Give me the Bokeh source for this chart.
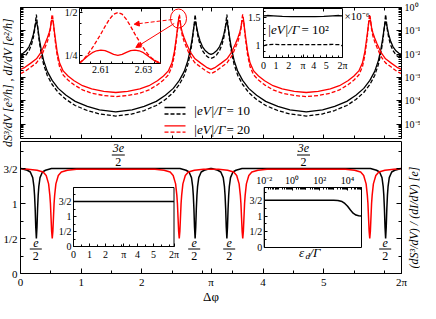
import math
from bokeh.plotting import figure
from bokeh.models import (Range1d, LinearScale, LogScale, LinearAxis, FixedTicker,
                          CustomJSTickFormatter, Label, Arrow, NormalHead)
from bokeh.embed import file_html
from bokeh.resources import INLINE

FONT = "Liberation Serif"
PI = 3.141592653589793
TWO_PI = 6.283185307179586

# ---------------- top panel: dS/dV (solid) and dI/dV (dashed), log scale ----------------
black_x = [0.0, 0.0418, 0.0918, 0.1418, 0.1818, 0.2118, 0.2318, 0.2418, 0.2518, 0.2618,
           0.2718, 0.2818, 0.2918, 0.3118, 0.3418, 0.3818, 0.4418, 0.5218, 0.6218, 0.7518, 0.9018, 1.1018, 1.3018,
           1.5708, 1.8398, 2.0398, 2.2398, 2.3898, 2.5198, 2.6198, 2.6998, 2.7598, 2.7998, 2.8298, 2.8498, 2.8598,
           2.8698, 2.8798,
           2.8898, 2.8998, 2.9098, 2.9298, 2.9598, 2.9998, 3.0498, 3.0998, 3.1416, 3.1834, 3.2334, 3.2834, 3.3234,
           3.3534, 3.3734, 3.3834, 3.3934, 3.4034,
           3.4134, 3.4234, 3.4334, 3.4534, 3.4834, 3.5234, 3.5834, 3.6634, 3.7634, 3.8934, 4.0434, 4.2434, 4.4434,
           4.7124, 4.9814, 5.1814, 5.3814, 5.5314, 5.6614, 5.7614, 5.8414, 5.9014, 5.9414, 5.9714, 5.9914, 6.0014,
           6.0114, 6.0214,
           6.0314, 6.0414, 6.0514, 6.0714, 6.1014, 6.1414, 6.1914, 6.2414, 6.2832]
black_dI = [0.0065, 0.0072, 0.0092, 0.0143, 0.0259, 0.0514, 0.103, 0.169, 0.305, 0.50,
            0.277, 0.153, 0.0845, 0.0315, 0.0106, 0.00358, 0.00121, 4.96e-4, 2.25e-4, 1.13e-4, 6.22e-5, 3.79e-5,
            2.69e-5, 2.20e-5, 2.69e-5, 3.79e-5, 6.22e-5, 1.13e-4, 2.25e-4, 4.96e-4, 0.00121, 0.00358, 0.0106,
            0.0315, 0.0845, 0.153, 0.277, 0.50,
            0.305, 0.169, 0.103, 0.0514, 0.0259, 0.0143, 0.0092, 0.0072, 0.0065, 0.0072, 0.0092, 0.0143, 0.0259,
            0.0514, 0.103, 0.169, 0.305, 0.50,
            0.277, 0.153, 0.0845, 0.0315, 0.0106, 0.00358, 0.00121, 4.96e-4, 2.25e-4, 1.13e-4, 6.22e-5, 3.79e-5,
            2.69e-5, 2.20e-5, 2.69e-5, 3.79e-5, 6.22e-5, 1.13e-4, 2.25e-4, 4.96e-4, 0.00121, 0.00358, 0.0106,
            0.0315, 0.0845, 0.153, 0.277, 0.50,
            0.305, 0.169, 0.103, 0.0514, 0.0259, 0.0143, 0.0092, 0.0072, 0.0065]
black_dS = [0.0098, 0.0108, 0.0138, 0.021, 0.0373, 0.070, 0.123, 0.169, 0.214, 0.25,
            0.194, 0.153, 0.1006, 0.0428, 0.0153, 0.00526, 0.00182, 7.44e-4, 3.38e-4, 1.70e-4, 9.33e-5, 5.69e-5,
            4.04e-5, 3.30e-5, 4.04e-5, 5.69e-5, 9.33e-5, 1.70e-4, 3.38e-4, 7.44e-4, 0.00182, 0.00526, 0.0153,
            0.0428, 0.1006, 0.153, 0.194, 0.25,
            0.214, 0.169, 0.123, 0.070, 0.0373, 0.021, 0.0138, 0.0108, 0.0098, 0.0108, 0.0138, 0.021, 0.0373,
            0.070, 0.123, 0.169, 0.214, 0.25,
            0.194, 0.153, 0.1006, 0.0428, 0.0153, 0.00526, 0.00182, 7.44e-4, 3.38e-4, 1.70e-4, 9.33e-5, 5.69e-5,
            4.04e-5, 3.30e-5, 4.04e-5, 5.69e-5, 9.33e-5, 1.70e-4, 3.38e-4, 7.44e-4, 0.00182, 0.00526, 0.0153,
            0.0428, 0.1006, 0.153, 0.194, 0.25,
            0.214, 0.169, 0.123, 0.070, 0.0373, 0.021, 0.0138, 0.0108, 0.0098]

red_x = [0.0, 0.0736, 0.1636, 0.2636, 0.3436, 0.4036, 0.4436, 0.4736, 0.4936, 0.5036, 0.5086, 0.5136, 0.5186, 0.5236,
         0.5286, 0.5336, 0.5386, 0.5436, 0.5536, 0.5736, 0.6036, 0.6436, 0.7036, 0.7836, 0.8836, 1.0236, 1.1736,
         1.3736, 1.5708, 1.7680, 1.9680, 2.1180, 2.2580, 2.3580, 2.4380, 2.4980, 2.5380, 2.5680, 2.5880, 2.5980,
         2.6030, 2.6080, 2.6130, 2.6180,
         2.6230, 2.6280, 2.6330, 2.6380, 2.6480, 2.6680, 2.6980, 2.7380, 2.7980, 2.8780, 2.9780, 3.0680, 3.1416,
         3.2152, 3.3052, 3.4052, 3.4852, 3.5452, 3.5852, 3.6152, 3.6352, 3.6452, 3.6502, 3.6552, 3.6602, 3.6652,
         3.6702, 3.6752, 3.6802, 3.6852, 3.6952, 3.7152, 3.7452, 3.7852, 3.8452, 3.9252, 4.0252, 4.1652, 4.3152,
         4.5152, 4.7124, 4.9096, 5.1096, 5.2596, 5.3996, 5.4996, 5.5796, 5.6396, 5.6796, 5.7096, 5.7296, 5.7396,
         5.7446, 5.7496, 5.7546, 5.7596,
         5.7646, 5.7696, 5.7746, 5.7796, 5.7896, 5.8096, 5.8396, 5.8796, 5.9396, 6.0196, 6.1196, 6.2096, 6.2832]
red_dI = [0.00145, 0.0018, 0.0027, 0.0042, 0.0083, 0.019, 0.0347, 0.0625, 0.118, 0.195, 0.26, 0.35, 0.45, 0.50,
          0.45, 0.34, 0.25, 0.19, 0.10, 0.035, 0.009, 0.0029, 0.00127, 7.7e-4, 4.8e-4, 2.9e-4, 2.1e-4, 1.67e-4,
          1.5e-4, 1.67e-4, 2.1e-4, 2.9e-4, 4.8e-4, 7.7e-4, 0.00127, 0.0029, 0.009, 0.035, 0.10, 0.19, 0.25, 0.34,
          0.45, 0.50,
          0.45, 0.35, 0.26, 0.195, 0.118, 0.0625, 0.0347, 0.019, 0.0083, 0.0042, 0.0027, 0.0018, 0.00145, 0.0018,
          0.0027, 0.0042, 0.0083, 0.019, 0.0347, 0.0625, 0.118, 0.195, 0.26, 0.35, 0.45, 0.50,
          0.45, 0.34, 0.25, 0.19, 0.10, 0.035, 0.009, 0.0029, 0.00127, 7.7e-4, 4.8e-4, 2.9e-4, 2.1e-4, 1.67e-4,
          1.5e-4, 1.67e-4, 2.1e-4, 2.9e-4, 4.8e-4, 7.7e-4, 0.00127, 0.0029, 0.009, 0.035, 0.10, 0.19, 0.25, 0.34,
          0.45, 0.50,
          0.45, 0.35, 0.26, 0.195, 0.118, 0.0625, 0.0347, 0.019, 0.0083, 0.0042, 0.0027, 0.0018, 0.00145]
red_dS = [0.0022, 0.0027, 0.0040, 0.0063, 0.0125, 0.028, 0.05, 0.085, 0.14, 0.21, 0.265, 0.283, 0.27, 0.253,
          0.27, 0.283, 0.265, 0.21, 0.12, 0.048, 0.013, 0.0042, 0.0019, 0.00115, 7.2e-4, 4.4e-4, 3.2e-4, 2.5e-4,
          2.25e-4, 2.5e-4, 3.2e-4, 4.4e-4, 7.2e-4, 0.00115, 0.0019, 0.0042, 0.013, 0.048, 0.12, 0.21, 0.265, 0.283,
          0.27, 0.253,
          0.27, 0.283, 0.265, 0.21, 0.14, 0.085, 0.05, 0.028, 0.0125, 0.0063, 0.0040, 0.0027, 0.0022, 0.0027,
          0.0040, 0.0063, 0.0125, 0.028, 0.05, 0.085, 0.14, 0.21, 0.265, 0.283, 0.27, 0.253,
          0.27, 0.283, 0.265, 0.21, 0.12, 0.048, 0.013, 0.0042, 0.0019, 0.00115, 7.2e-4, 4.4e-4, 3.2e-4, 2.5e-4,
          2.25e-4, 2.5e-4, 3.2e-4, 4.4e-4, 7.2e-4, 0.00115, 0.0019, 0.0042, 0.013, 0.048, 0.12, 0.21, 0.265, 0.283,
          0.27, 0.253,
          0.27, 0.283, 0.265, 0.21, 0.14, 0.085, 0.05, 0.028, 0.0125, 0.0063, 0.0040, 0.0027, 0.0022]

# ---------------- bottom panel: (dS/dV)/(dI/dV) ----------------
black_rx = [0.0, 0.1118, 0.1618, 0.2018, 0.2218, 0.2318, 0.2418, 0.2518, 0.2618, 0.2718, 0.2818, 0.2918, 0.3018,
            0.3218, 0.3618, 0.4118, 0.5118,
            2.6298, 2.7298, 2.7798, 2.8198, 2.8398, 2.8498, 2.8598, 2.8698, 2.8798, 2.8898, 2.8998, 2.9098, 2.9198,
            2.9398, 2.9798, 3.0298, 3.1298,
            3.1534, 3.2534, 3.3034, 3.3434, 3.3634, 3.3734, 3.3834, 3.3934, 3.4034, 3.4134, 3.4234, 3.4334, 3.4434,
            3.4634, 3.5034, 3.5534, 3.6534,
            5.7714, 5.8714, 5.9214, 5.9614, 5.9814, 5.9914, 6.0014, 6.0114, 6.0214, 6.0314, 6.0414, 6.0514, 6.0614,
            6.0814, 6.1214, 6.1714, 6.2832]
black_ratio = [1.5, 1.475, 1.45, 1.37, 1.24, 1.12, 0.93, 0.66, 0.5, 0.66, 0.93, 1.12, 1.24, 1.37, 1.45, 1.475, 1.5,
               1.5, 1.475, 1.45, 1.37, 1.24, 1.12, 0.93, 0.66, 0.5, 0.66, 0.93, 1.12, 1.24, 1.37, 1.45, 1.475, 1.5,
               1.5, 1.475, 1.45, 1.37, 1.24, 1.12, 0.93, 0.66, 0.5, 0.66, 0.93, 1.12, 1.24, 1.37, 1.45, 1.475, 1.5,
               1.5, 1.475, 1.45, 1.37, 1.24, 1.12, 0.93, 0.66, 0.5, 0.66, 0.93, 1.12, 1.24, 1.37, 1.45, 1.475, 1.5]
red_rx = [0.0, 0.1236, 0.2736, 0.3736, 0.4236, 0.4636, 0.4836, 0.4936, 0.5036, 0.5136, 0.5236, 0.5336, 0.5436,
          0.5536, 0.5636, 0.5836, 0.6236, 0.6736, 0.7736, 0.9236,
          2.2180, 2.3680, 2.4680, 2.5180, 2.5580, 2.5780, 2.5880, 2.5980, 2.6080, 2.6180, 2.6280, 2.6380, 2.6480,
          2.6580, 2.6780, 2.7180, 2.7680, 2.8680, 3.0180,
          3.2652, 3.4152, 3.5152, 3.5652, 3.6052, 3.6252, 3.6352, 3.6452, 3.6552, 3.6652, 3.6752, 3.6852, 3.6952,
          3.7052, 3.7252, 3.7652, 3.8152, 3.9152, 4.0652,
          5.3596, 5.5096, 5.6096, 5.6596, 5.6996, 5.7196, 5.7296, 5.7396, 5.7496, 5.7596, 5.7696, 5.7796, 5.7896,
          5.7996, 5.8196, 5.8596, 5.9096, 6.0096, 6.1596, 6.2832]
red_ratio = [1.5, 1.49, 1.475, 1.45, 1.40, 1.28, 1.12, 1.0, 0.8, 0.6, 0.5, 0.6, 0.8, 1.0, 1.12, 1.28, 1.40, 1.45,
             1.475, 1.49,
             1.49, 1.475, 1.45, 1.40, 1.28, 1.12, 1.0, 0.8, 0.6, 0.5, 0.6, 0.8, 1.0, 1.12, 1.28, 1.40, 1.45, 1.475,
             1.49,
             1.49, 1.475, 1.45, 1.40, 1.28, 1.12, 1.0, 0.8, 0.6, 0.5, 0.6, 0.8, 1.0, 1.12, 1.28, 1.40, 1.45, 1.475,
             1.49,
             1.49, 1.475, 1.45, 1.40, 1.28, 1.12, 1.0, 0.8, 0.6, 0.5, 0.6, 0.8, 1.0, 1.12, 1.28, 1.40, 1.45, 1.475,
             1.49, 1.5]

# ---------------- insets ----------------
insetA_x = [2.600, 2.602, 2.604, 2.606, 2.608, 2.610, 2.612, 2.614, 2.616, 2.618, 2.620, 2.622, 2.624, 2.626,
            2.628, 2.630, 2.632, 2.634, 2.636, 2.638]
insetA_dI = [0.21, 0.23, 0.26, 0.295, 0.335, 0.375, 0.42, 0.46, 0.49, 0.50, 0.49, 0.46, 0.42, 0.375, 0.335,
             0.295, 0.26, 0.235, 0.22, 0.21]
insetA_dS = [0.206, 0.228, 0.25, 0.268, 0.279, 0.283, 0.28, 0.27, 0.258, 0.253, 0.258, 0.27, 0.28, 0.283, 0.279,
             0.268, 0.25, 0.232, 0.215, 0.206]

insetB_x = [0.0, 0.3, 0.8, 1.5, 2.2, 2.8, 3.1416, 3.5, 4.1, 4.8, 5.5, 6.0, 6.2832]
insetB_dS = [1.53, 1.535, 1.53, 1.52, 1.515, 1.515, 1.515, 1.515, 1.515, 1.52, 1.53, 1.535, 1.53]
insetB_dI = [1.0, 1.02, 1.025, 1.02, 1.02, 1.02, 1.02, 1.02, 1.02, 1.02, 1.025, 1.02, 1.0]

insetC_x = [0.0, 1.5708, 3.1416, 4.7124, 6.2832]
insetC_ratio = [1.5, 1.5, 1.5, 1.5, 1.5]

insetD_x = [0.01, 0.1, 1, 10, 100, 1000, 2000, 4000, 6300, 10000, 16000, 25000, 40000, 63000, 100000]
insetD_ratio = [1.5, 1.5, 1.5, 1.5, 1.5, 1.497, 1.49, 1.46, 1.40, 1.31, 1.19, 1.09, 1.03, 1.01, 1.0]

# ---------------- ticks ----------------
x_ticks = [0, 1, 2, PI, 4, 5, TWO_PI]
x_tick_labels = ["0", "1", "2", "π", "4", "5", "2π"]
x_minor = [0.5, 1.5, 2.5, 3, 3.5, 4.5, 5.5, 6]
log_ticks = [1.0, 0.1, 0.01, 0.001, 0.0001, 0.00001]
log_tick_labels = ["10⁰", "10⁻¹", "10⁻²", "10⁻³", "10⁻⁴", "10⁻⁵"]
frac_ticks = [0, 0.5, 1, 1.5]
frac_labels = ["0", "1/2", "1", "3/2"]
frac_minor = [0.25, 0.75, 1.25, 1.75]
insetA_xticks = [2.61, 2.63]
insetA_xlabels = ["2.61", "2.63"]
insetA_xminor = [2.605, 2.615, 2.62, 2.625, 2.635]
insetA_yticks = [0.25, 0.5]
insetA_ylabels = ["1/4", "1/2"]
insetA_yminor = [0.3125, 0.375, 0.4375]
insetB_yticks = [1, 1.5]
insetB_ylabels = ["1", "1.5"]
insetB_yminor = [0.9, 1.1, 1.2, 1.3, 1.4, 1.6]
insetD_xticks = [0.01, 1, 100, 10000]
insetD_xlabels = ["10⁻²", "10⁰", "10²", "10⁴"]

assert len(black_x) == len(black_dI) == len(black_dS)
assert len(red_x) == len(red_dI) == len(red_dS)
assert len(black_rx) == len(black_ratio) and len(red_rx) == len(red_ratio)

# ---------------- layout geometry: the frame fills the whole canvas (page x 8..428, y 8..311) ----------------
CW, CH = 420.0, 303.0
TOP_LO = 10 ** (-131 / 23.3)      # lower limit of the log panel
BOT_HI = 1.886                    # upper limit of the ratio panel


def fx(page_x):
    return page_x - 8.0


def fy(page_y):
    return 311.0 - page_y


def span(d0, d1, p0, p1, F):
    k = (d1 - d0) / (p1 - p0)
    s = d0 - p0 * k
    return Range1d(s, s + F * k)


def span_log(d0, d1, p0, p1, F):
    l0, l1 = math.log10(d0), math.log10(d1)
    k = (l1 - l0) / (p1 - p0)
    s = l0 - p0 * k
    return Range1d(10 ** s, 10 ** (s + F * k))


p = figure(width=int(CW), height=int(CH),
           x_range=span(0, TWO_PI, fx(28), fx(409), CW),
           y_range=span(0, BOT_HI, fy(281), fy(149), CH),
           x_axis_location=None, y_axis_location=None, toolbar_location=None, output_backend="svg",
           min_border=0, min_border_left=0, min_border_right=0, min_border_top=0, min_border_bottom=0)
p.outline_line_color = None
p.background_fill_color = "white"
p.border_fill_color = "white"
p.grid.grid_line_color = None

p.extra_x_ranges = {
    "Ax": span(2.600, 2.638, fx(87), fx(168), CW),
    "Bx": span(0, TWO_PI, fx(271), fx(350), CW),
    "Cx": span(0, TWO_PI, fx(81), fx(181.5), CW),
    "Dx": span_log(1e-2, 1e5, fx(271.7), fx(369), CW),
    "px": Range1d(0, CW),
}
p.extra_x_scales = {"Ax": LinearScale(), "Bx": LinearScale(), "Cx": LinearScale(),
                    "Dx": LogScale(), "px": LinearScale()}
p.extra_y_ranges = {
    "top": span_log(TOP_LO, 1.0, fy(146), fy(15), CH),
    "Ay": span(0.2055, 0.523, fy(71), fy(16), CH),
    "By": span(0.794, 1.659, fy(65), fy(16), CH),
    "Cy": span(0, 1.967, fy(254), fy(195), CH),
    "Dy": span(0, 1.905, fy(255), fy(195), CH),
    "px": Range1d(0, CH),
}
p.extra_y_scales = {"top": LogScale(), "Ay": LinearScale(), "By": LinearScale(), "Cy": LinearScale(),
                    "Dy": LinearScale(), "px": LinearScale()}

LW = 1.3
DASH = "4 2"

# bottom panel curves
p.line(black_rx, black_ratio, line_color="black", line_width=1.5)
p.line(red_rx, red_ratio, line_color="red", line_width=1.5)

# top panel curves
p.line(black_x, black_dS, line_color="black", line_width=LW, y_range_name="top")
p.line(black_x, black_dI, line_color="black", line_width=LW, line_dash=DASH, y_range_name="top")
p.line(red_x, red_dS, line_color="red", line_width=LW, y_range_name="top")
p.line(red_x, red_dI, line_color="red", line_width=LW, line_dash=DASH, y_range_name="top")

# insets: white boxes then curves
p.quad(left=2.600, right=2.638, bottom=0.2055, top=0.523, fill_color="white", line_color="black",
       x_range_name="Ax", y_range_name="Ay")
p.line(insetA_x, insetA_dS, line_color="red", line_width=LW, x_range_name="Ax", y_range_name="Ay")
p.line(insetA_x, insetA_dI, line_color="red", line_width=LW, line_dash=DASH, x_range_name="Ax", y_range_name="Ay")

p.quad(left=0, right=TWO_PI, bottom=0.794, top=1.659, fill_color="white", line_color="black",
       x_range_name="Bx", y_range_name="By")
p.line(insetB_x, insetB_dS, line_color="black", line_width=LW, x_range_name="Bx", y_range_name="By")
p.line(insetB_x, insetB_dI, line_color="black", line_width=LW, line_dash=DASH, x_range_name="Bx", y_range_name="By")

p.quad(left=0, right=TWO_PI, bottom=0, top=1.967, fill_color="white", line_color="black",
       x_range_name="Cx", y_range_name="Cy")
p.line(insetC_x, insetC_ratio, line_color="black", line_width=1.5, x_range_name="Cx", y_range_name="Cy")

p.quad(left=1e-2, right=1e5, bottom=0, top=1.905, fill_color="white", line_color="black",
       x_range_name="Dx", y_range_name="Dy")
p.line(insetD_x, insetD_ratio, line_color="black", line_width=1.5, x_range_name="Dx", y_range_name="Dy")


def labels_formatter(vals, labs):
    return CustomJSTickFormatter(args=dict(vals=list(vals), labs=list(labs)), code="""
        for (let i = 0; i < vals.length; i++) {
            const v = vals[i];
            if (Math.abs(v - tick) <= 1e-9 * Math.max(Math.abs(v), 1e-12)) return labs[i];
        }
        return "";
    """)


def add_axis(side, xr, yr, loc, bounds, ticks, minor, labels=None, tin=5, mtin=3, size="11px", standoff=3):
    ax = LinearAxis(x_range_name=xr, y_range_name=yr, fixed_location=loc, bounds=bounds,
                    ticker=FixedTicker(ticks=list(ticks), minor_ticks=list(minor)),
                    major_tick_in=tin, major_tick_out=0, minor_tick_in=mtin, minor_tick_out=0,
                    major_label_standoff=standoff, major_label_text_font=FONT,
                    major_label_text_font_size=size, axis_line_color="black", axis_line_width=1,
                    major_tick_line_color="black", minor_tick_line_color="black")
    if labels is None:
        ax.major_label_text_color = None
    else:
        ax.major_label_text_color = "black"
        ax.formatter = labels_formatter(ticks, labels)
    p.add_layout(ax, side)
    return ax


log_minor = [k * 10.0 ** e for e in range(-6, 0) for k in range(2, 10) if k * 10.0 ** e >= TOP_LO]
insetD_minor = [k * 10.0 ** e for e in range(-2, 5) for k in range(2, 10)] + [0.1, 10, 1000, 100000]
XB = (0, TWO_PI)

# main panel axes (all drawn at fixed positions inside the canvas)
add_axis("below", "default", "default", 0, XB, x_ticks, x_minor, x_tick_labels, standoff=2)
add_axis("above", "default", "default", BOT_HI, XB, [], [], None, tin=0, mtin=0)
add_axis("left", "default", "default", 0, (0, BOT_HI), frac_ticks, frac_minor, frac_labels, standoff=3)
add_axis("right", "default", "default", TWO_PI, (0, BOT_HI), frac_ticks, frac_minor, None)
add_axis("below", "default", "top", TOP_LO, XB, x_ticks, x_minor, None, tin=4, mtin=3)
add_axis("above", "default", "top", 1.0, XB, x_ticks, x_minor, None, tin=4, mtin=3)
add_axis("left", "default", "top", 0, (TOP_LO, 1.0), log_ticks, log_minor, None, tin=5, mtin=3)
add_axis("right", "default", "top", TWO_PI, (TOP_LO, 1.0), log_ticks, log_minor, log_tick_labels,
         tin=5, mtin=3, size="10px", standoff=3)

# inset axes
add_axis("below", "Ax", "Ay", 0.2055, (2.600, 2.638), insetA_xticks, insetA_xminor, insetA_xlabels,
         tin=3, mtin=2, size="10px", standoff=2)
add_axis("left", "Ax", "Ay", 2.600, (0.2055, 0.523), insetA_yticks, insetA_yminor, insetA_ylabels,
         tin=3, mtin=2, size="10px", standoff=2)
add_axis("below", "Bx", "By", 0.794, XB, x_ticks, x_minor, x_tick_labels,
         tin=3, mtin=2, size="10px", standoff=2)
add_axis("left", "Bx", "By", 0, (0.794, 1.659), insetB_yticks, insetB_yminor, insetB_ylabels,
         tin=3, mtin=2, size="10px", standoff=3)
add_axis("below", "Cx", "Cy", 0, XB, x_ticks, x_minor, x_tick_labels,
         tin=3, mtin=2, size="10px", standoff=2)
add_axis("left", "Cx", "Cy", 0, (0, 1.967), frac_ticks, frac_minor, frac_labels,
         tin=3, mtin=2, size="10px", standoff=2)
add_axis("above", "Dx", "Dy", 1.905, (1e-2, 1e5), insetD_xticks, insetD_minor, insetD_xlabels,
         tin=3, mtin=2, size="10px", standoff=2)
add_axis("left", "Dx", "Dy", 1e-2, (0, 1.905), frac_ticks, frac_minor, frac_labels,
         tin=3, mtin=2, size="10px", standoff=2)


def txt(x, y, s, size="12px", style="normal", align="center", baseline="middle", angle=0.0):
    p.add_layout(Label(x=x, y=y, text=s, x_range_name="px", y_range_name="px", text_font=FONT,
                       text_font_size=size, text_font_style=style, text_align=align,
                       text_baseline=baseline, angle=angle, text_color="black"))


# legend (top panel)
leg_rows = [(115.0, "black", None), (121.5, "black", DASH), (133.3, "red", None), (139.7, "red", DASH)]
for yy, col, dash in leg_rows:
    kw = dict(line_dash=dash) if dash else {}
    p.segment(x0=[fx(172)], x1=[fx(193)], y0=[fy(yy)], y1=[fy(yy)], line_color=col, line_width=LW,
              x_range_name="px", y_range_name="px", **kw)
txt(fx(201), fy(118.3), "|eV|/Γ", size="13px", style="italic", align="left")
txt(fx(234), fy(118.3), "= 10", size="13px", align="left")
txt(fx(201), fy(136.7), "|eV|/Γ", size="13px", style="italic", align="left")
txt(fx(234), fy(136.7), "= 20", size="13px", align="left")

# inset B annotation
txt(fx(275), fy(37), "|eV|/Γ", size="13px", style="italic", align="left")
txt(fx(309), fy(37), "= 10²", size="13px", align="left")
txt(fx(352), fy(23), "×10⁻⁶", size="11px", align="left")

# inset D x label
txt(fx(306.5), fy(260), "ε", size="13px", style="italic", align="left")
txt(fx(313.0), fy(263.5), "d", size="9px", style="italic", align="left")
txt(fx(317.0), fy(260), "/Γ", size="13px", style="italic", align="left")

# red circle and arrows toward inset A
p.ellipse(x=[fx(186)], y=[fy(26)], width=16, height=19, width_units="screen", height_units="screen",
          fill_color=None, line_color="red", line_width=1, x_range_name="px", y_range_name="px")
p.add_layout(Arrow(end=NormalHead(size=5, fill_color="red", line_color="red"),
                   x_start=fx(180), y_start=fy(27), x_end=fx(141.7), y_end=fy(31.7),
                   line_color="red", line_width=1, line_dash=DASH, x_range_name="px", y_range_name="px"))
p.add_layout(Arrow(end=NormalHead(size=5, fill_color="red", line_color="red"),
                   x_start=fx(181.7), y_start=fy(31), x_end=fx(143.3), y_end=fy(55),
                   line_color="red", line_width=1, x_range_name="px", y_range_name="px"))

# fractions in the ratio panel
for cx in (fx(125.8), fx(311.0)):
    txt(cx, fy(155.5), "3e", size="12px", style="italic")
    p.segment(x0=[cx - 6.5], x1=[cx + 6.5], y0=[fy(162.5)], y1=[fy(162.5)], line_color="black",
              line_width=1, x_range_name="px", y_range_name="px")
    txt(cx, fy(169.0), "2", size="12px")
for cx in (fx(43.3), fx(201.7), fx(236.7), fx(392.7)):
    txt(cx, fy(250.5), "e", size="12px", style="italic")
    p.segment(x0=[cx - 6.0], x1=[cx + 6.0], y0=[fy(256.5)], y1=[fy(256.5)], line_color="black",
              line_width=1, x_range_name="px", y_range_name="px")
    txt(cx, fy(263.0), "2", size="12px")

# axis titles
txt(fx(218.5), fy(304), "Δφ", size="13px")
txt(fx(15), fy(90), "dS³/dV [e³/h] , dI/dV [e²/h]", size="12px", style="italic", angle=math.pi / 2)
txt(fx(421), fy(225), "(dS³/dV) / (dI/dV) [e]", size="12px", style="italic", angle=math.pi / 2)

open("out.html", "w").write(file_html(p, INLINE))
